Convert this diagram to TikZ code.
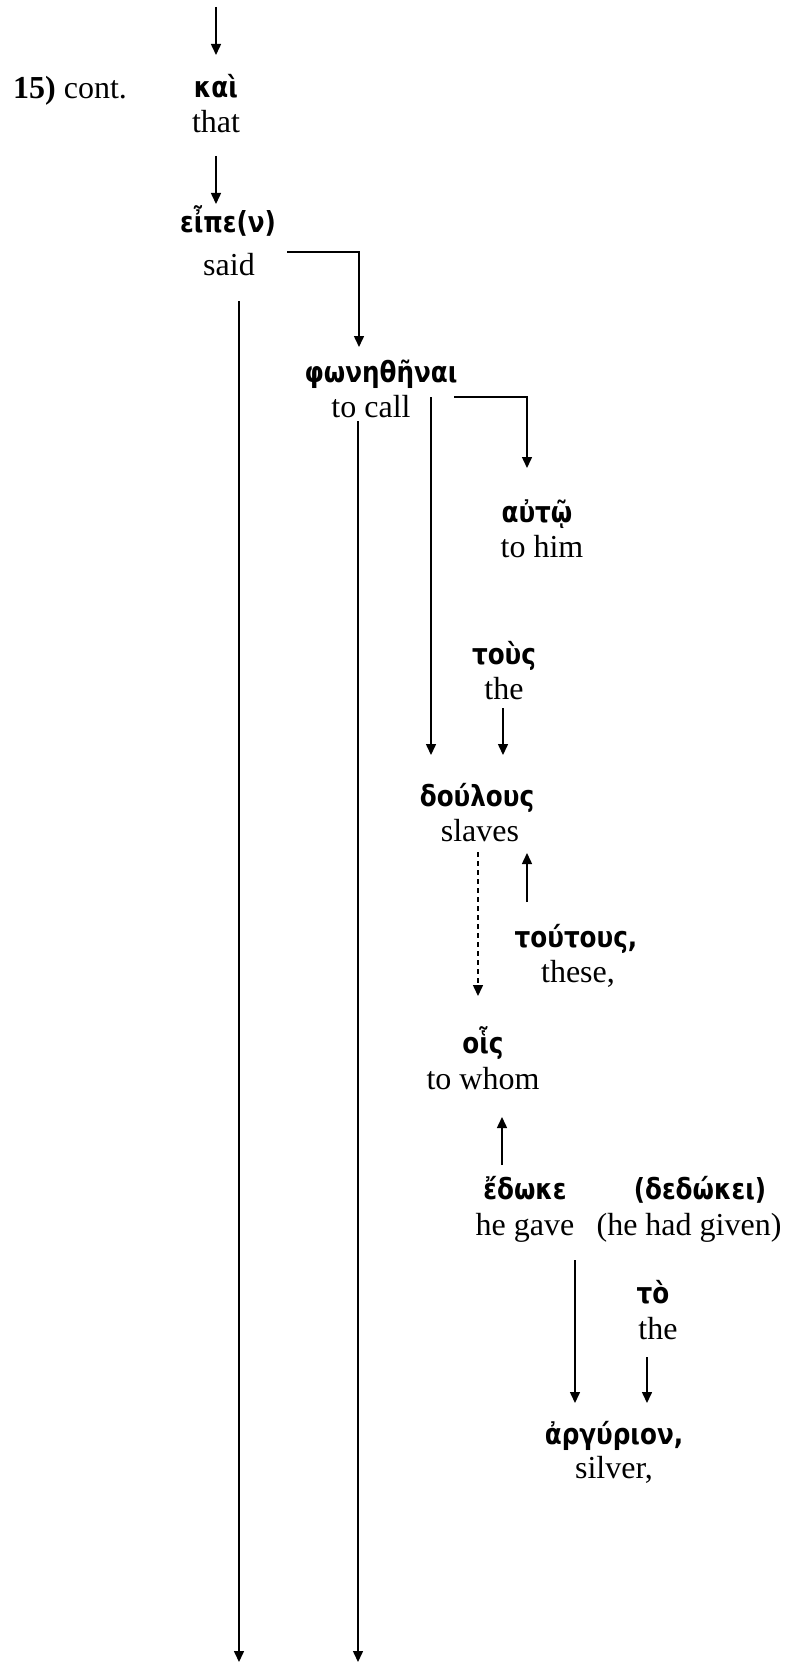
\documentclass[tikz,border=0pt]{standalone}
\usepackage{fontspec}
\setmainfont{Liberation Serif}
\newfontfamily\grk[FakeStretch=0.85]{DejaVu Sans}
\usetikzlibrary{arrows.meta}
\begin{document}
\begin{tikzpicture}[x=1pt,y=-1pt,
  en/.style={font=\fontsize{32}{38}\selectfont, inner sep=0pt, anchor=base},
  gk/.style={font=\grk\bfseries\fontsize{29}{34}\selectfont, inner sep=0pt, anchor=base},
  arr/.style={line width=1.5pt, -{Triangle[length=11pt,width=10pt]}},
  dsh/.style={dash pattern=on 5pt off 4pt}]
\useasboundingbox (0,0) rectangle (786,1664);
% texts
\node[en, anchor=base west] (num) at (13,99) {\textbf{15)} cont.};
\node[gk] (kai) at (216,98) {καὶ};
\node[en] (that) at (216,133) {that};
\node[gk] (eipe) at (228,233) {εἶπε(ν)};
\node[en] (said) at (229,275) {said};
\node[gk] (phon) at (381,382) {φωνηθῆναι};
\node[en] (tocall) at (371,417) {to call};
\node[gk] (auto) at (537,522) {αὐτῷ};
\node[en] (tohim) at (542,557) {to him};
\node[gk] (tous) at (504,664) {τοὺς};
\node[en] (the1) at (504,699) {the};
\node[gk] (doul) at (477,806) {δούλους};
\node[en] (slaves) at (480,841) {slaves};
\node[gk] (tout) at (576,947) {τούτους,};
\node[en] (these) at (578,982) {these,};
\node[gk] (hois) at (483,1053) {οἷς};
\node[en] (towhom) at (483,1089) {to whom};
\node[gk] (edwke) at (525,1199) {ἔδωκε};
\node[gk] (dedw) at (700,1199) {(δεδώκει)};
\node[en] (hegave) at (525,1235) {he gave};
\node[en] (hadgiven) at (689,1235) {(he had given)};
\node[gk] (to) at (653,1303) {τὸ};
\node[en] (the2) at (658,1339) {the};
\node[gk] (arg) at (614,1444) {ἀργύριον,};
\node[en] (silver) at (614,1478) {silver,};
% connector end points
\coordinate (topA) at (216,7);    \coordinate (topB) at (216,55);
\coordinate (thatA) at (216,156); \coordinate (thatB) at (216,204);
\coordinate (saidA) at (287,252); \coordinate (saidB) at (359,347);
\coordinate (saidC) at (239,301); \coordinate (saidD) at (239,1662);
\coordinate (callA) at (358,421); \coordinate (callB) at (358,1662);
\coordinate (callC) at (431,397); \coordinate (callD) at (431,755);
\coordinate (callE) at (454,397); \coordinate (callF) at (527,468);
\coordinate (theA) at (503,708);  \coordinate (theB) at (503,755);
\coordinate (slA) at (478,852);   \coordinate (slB) at (478,996);
\coordinate (thA) at (527,902);   \coordinate (thB) at (527,853);
\coordinate (edA) at (502,1165);  \coordinate (edB) at (502,1117);
\coordinate (gvA) at (575,1260);  \coordinate (gvB) at (575,1403);
\coordinate (tA) at (647,1357);   \coordinate (tB) at (647,1403);
% connectors
\draw[arr] (topA) -- (topB);
\draw[arr] (thatA) -- (thatB);
\draw[arr] (saidA) -| (saidB);
\draw[arr] (saidC) -- (saidD);
\draw[arr] (callA) -- (callB);
\draw[arr] (callC) -- (callD);
\draw[arr] (callE) -| (callF);
\draw[arr] (theA) -- (theB);
\draw[arr,dsh] (slA) -- (slB);
\draw[arr] (thA) -- (thB);
\draw[arr] (edA) -- (edB);
\draw[arr] (gvA) -- (gvB);
\draw[arr] (tA) -- (tB);
\end{tikzpicture}
\end{document}
